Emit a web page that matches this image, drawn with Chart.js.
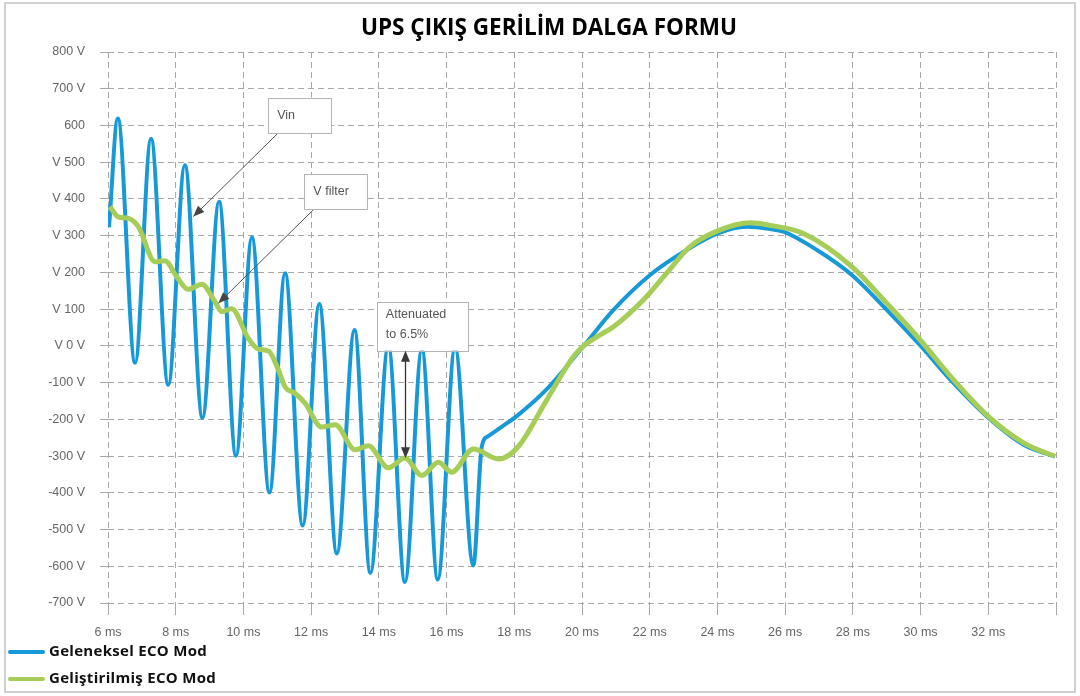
<!DOCTYPE html>
<html>
<head>
<meta charset="utf-8">
<script src="https://cdn.jsdelivr.net/npm/chart.js@4.4.1/dist/chart.umd.min.js"></script>
<style>
  html, body { margin: 0; padding: 0; background: #fff; }
  #wrap { position: relative; width: 1080px; height: 696px; overflow: hidden; }
  #frame { position: absolute; left: 4px; top: 2px; width: 1072px; height: 691px; border: 2px solid #d0d0d0; box-sizing: border-box; pointer-events: none; }
  #title { position: absolute; left: 18px; width: 1062px; top: 11px; text-align: center; font: bold 22.5px "Open Sans", sans-serif; color: #000; margin: 0; }
  #chart { position: absolute; left: 0; top: 0; }
  .leg { position: absolute; left: 8px; font: bold 15px "Open Sans", sans-serif; letter-spacing: 0.3px; color: #111; white-space: nowrap; }
  .leg i { display: inline-block; width: 37px; height: 4px; vertical-align: middle; margin-right: 4px; border-radius: 2px; }
</style>
</head>
<body>
<div id="wrap">
  <canvas id="chart" width="1080" height="696"></canvas>
  <div id="title">UPS ÇIKIŞ GERİLİM DALGA FORMU</div>
  <div id="legend"></div>
  <div id="frame"></div>
</div>
<script>
// series names + colours
const seriesNames = ['Geleneksel ECO Mod', 'Geliştirilmiş ECO Mod'];
const seriesColors = ['#1699d6', '#a5cd58'];

// Geleneksel ECO Mod (Vin) - time in ms, volts
const blueTime = [6.03, 6.29, 6.80, 7.27, 7.78, 8.27, 8.79, 9.28, 9.78, 10.25, 10.77, 11.23, 11.75, 12.24, 12.76,
  13.28, 13.75, 14.28, 14.77, 15.27, 15.74, 16.25, 16.79, 17.04, 17.23, 17.73, 18.09, 18.96, 20.06, 20.93,
  22.01, 23.09, 24.01, 24.87, 25.56, 25.95, 26.94, 27.97, 29.00, 29.99, 30.97, 32.00, 33.04, 33.97];
const blueVolts = [323, 619, -46, 564, -106, 492, -196, 392, -299, 295, -399, 198, -489, 114, -565,
  43, -618, 0, -643, -10, -636, -5, -598, -274, -246, -214, -190, -118, 1, 98,
  193, 261, 306, 324, 318, 311, 261, 193, 98, 1, -101, -196, -269, -301];

// Geliştirilmiş ECO Mod (V filter)
const greenTime = [6.06, 6.30, 6.60, 6.90, 7.39, 7.68, 8.03, 8.37, 8.77, 9.16, 9.36, 9.65, 10.14, 10.44, 10.74,
  11.03, 11.23, 11.52, 11.82, 12.31, 12.71, 13.30, 13.69, 14.28, 14.77, 15.27, 15.76, 16.15, 16.79, 17.55,
  18.12, 18.96, 19.75, 20.06, 20.50, 20.93, 21.81, 22.50, 23.19, 24.01, 24.97, 25.56, 26.54, 27.97, 29.00, 29.99,
  30.97, 32.00, 33.04, 33.97];
const greenVolts = [379, 351, 347, 324, 229, 232, 188, 154, 168, 120, 93, 101, 21, -9, -14,
  -65, -112, -129, -156, -221, -215, -283, -272, -332, -305, -353, -317, -344, -281, -308,
  -274, -147, -29, 1, 28, 52, 125, 198, 270, 313, 335, 328, 306, 216, 116, 16,
  -92, -192, -264, -301];

// axis tick labels (as printed on the original)
const xTickValues = [6, 8, 10, 12, 14, 16, 18, 20, 22, 24, 26, 28, 30, 32, 34];
const xTickLabels = ['6 ms', '8 ms', '10 ms', '12 ms', '14 ms', '16 ms', '18 ms', '20 ms', '22 ms', '24 ms', '26 ms', '28 ms', '30 ms', '32 ms', ''];
const yTickValues = [800, 700, 600, 500, 400, 300, 200, 100, 0, -100, -200, -300, -400, -500, -600, -700];
const yTickLabels = ['800 V', '700 V', '600', 'V 500', 'V 400', 'V 300', 'V 200', 'V 100', 'V 0 V', '-100 V', '-200 V', '-300 V', '-400 V', '-500 V', '-600 V', '-700 V'];

// callouts, in data units (ms, V)
const callouts = [
  { text: ['Vin'], box: [10.73, 676, 12.60, 580], from: [11.03, 580], to: [8.52, 352] },
  { text: ['V filter'], box: [11.80, 467, 13.66, 372], from: [12.06, 370], to: [9.26, 116] },
  { text: ['Attenuated', 'to 6.5%'], box: [13.94, 120, 16.64, -13], span: [14.77, -13, -306] }
];

// legend
const legendEl = document.getElementById('legend');
seriesNames.forEach((name, i) => {
  const d = document.createElement('div');
  d.className = 'leg';
  d.style.top = (640 + i * 27) + 'px';
  d.innerHTML = '<i style="background:' + seriesColors[i] + '"></i>' + name;
  legendEl.appendChild(d);
});

function arrowHead(ctx, x1, y1, x2, y2) {
  const a = Math.atan2(y2 - y1, x2 - x1);
  const len = 11, w = 4.5;
  ctx.beginPath();
  ctx.moveTo(x2, y2);
  ctx.lineTo(x2 - len * Math.cos(a) + w * Math.sin(a), y2 - len * Math.sin(a) - w * Math.cos(a));
  ctx.lineTo(x2 - len * Math.cos(a) - w * Math.sin(a), y2 - len * Math.sin(a) + w * Math.cos(a));
  ctx.closePath();
  ctx.fill();
}

const calloutPlugin = {
  id: 'callouts',
  afterDatasetsDraw(chart) {
    const { ctx } = chart;
    const xs = chart.scales.x, ys = chart.scales.y;
    ctx.save();
    callouts.forEach(c => {
      const bx1 = xs.getPixelForValue(c.box[0]), by1 = ys.getPixelForValue(c.box[1]);
      const bx2 = xs.getPixelForValue(c.box[2]), by2 = ys.getPixelForValue(c.box[3]);
      ctx.strokeStyle = '#555';
      ctx.fillStyle = '#444';
      ctx.lineWidth = 1;
      if (c.from) {
        const fx = xs.getPixelForValue(c.from[0]), fy = ys.getPixelForValue(c.from[1]);
        const tx = xs.getPixelForValue(c.to[0]), ty = ys.getPixelForValue(c.to[1]);
        ctx.beginPath(); ctx.moveTo(fx, fy); ctx.lineTo(tx, ty); ctx.stroke();
        arrowHead(ctx, fx, fy, tx, ty);
      }
      // box
      ctx.fillStyle = '#fff';
      ctx.fillRect(bx1, by1, bx2 - bx1, by2 - by1);
      ctx.strokeStyle = '#b5b5b5';
      ctx.strokeRect(Math.round(bx1) + 0.5, Math.round(by1) + 0.5, Math.round(bx2 - bx1), Math.round(by2 - by1));
      if (c.span) {
        const sx = Math.round(xs.getPixelForValue(c.span[0])) + 0.5;
        const sy1 = ys.getPixelForValue(c.span[1]), sy2 = ys.getPixelForValue(c.span[2]);
        ctx.strokeStyle = '#333';
        ctx.fillStyle = '#3a3a3a';
        ctx.lineWidth = 1.3;
        ctx.beginPath(); ctx.moveTo(sx, sy1 + 6); ctx.lineTo(sx, sy2 - 6); ctx.stroke();
        arrowHead(ctx, sx, sy2, sx, sy1);
        arrowHead(ctx, sx, sy1, sx, sy2);
      }
      ctx.fillStyle = '#555';
      ctx.font = '12.5px "Liberation Sans", Arial, sans-serif';
      ctx.textBaseline = 'middle';
      ctx.textAlign = 'left';
      const lines = c.text;
      const top = lines.length > 1 ? by1 + 13 : (by1 + by2) / 2;
      lines.forEach((t, i) => ctx.fillText(t, bx1 + 9, top + i * 20));
    });
    ctx.restore();
  }
};

const tickFont = { family: '"Liberation Sans", Arial, sans-serif', size: 12.5 };
const gridColor = '#a8a8a8';

const ctx = document.getElementById('chart').getContext('2d');
const chart = new Chart(ctx, {
  type: 'line',
  data: {
    datasets: [{
      label: seriesNames[0],
      data: blueTime.map((t, i) => ({ x: t, y: blueVolts[i] })),
      borderColor: seriesColors[0],
      borderWidth: 4,
      pointRadius: 0,
      cubicInterpolationMode: 'monotone',
      fill: false,
      order: 1
    }, {
      label: seriesNames[1],
      data: greenTime.map((t, i) => ({ x: t, y: greenVolts[i] })),
      borderColor: seriesColors[1],
      borderWidth: 5,
      pointRadius: 0,
      cubicInterpolationMode: 'monotone',
      fill: false,
      order: 0
    }]
  },
  options: {
    responsive: false,
    animation: false,
    layout: { padding: { left: 0, right: 24, top: 52, bottom: 0 } },
    plugins: { legend: { display: false }, title: { display: false }, tooltip: { enabled: false } },
    scales: {
      x: {
        type: 'linear', min: 6, max: 34,
        afterBuildTicks: s => { s.ticks = xTickValues.map(v => ({ value: v })); },
        afterFit: s => { s.height = 93; },
        ticks: {
          autoSkip: false, maxRotation: 0, padding: 10, color: '#666', font: tickFont,
          callback: v => xTickLabels[xTickValues.indexOf(v)]
        },
        grid: { color: gridColor, tickColor: gridColor, tickLength: 12, tickBorderDash: [] },
        border: { display: false, dash: [6, 4] }
      },
      y: {
        min: -700, max: 800,
        afterBuildTicks: s => { s.ticks = yTickValues.map(v => ({ value: v })); },
        afterFit: s => { s.width = 108; },
        ticks: {
          autoSkip: false, padding: 15, color: '#666', font: tickFont,
          callback: v => yTickLabels[yTickValues.indexOf(v)]
        },
        grid: { color: gridColor, tickColor: gridColor, tickLength: 8, tickBorderDash: [] },
        border: { display: false, dash: [6, 4] }
      }
    }
  },
  plugins: [calloutPlugin]
});
</script>
</body>
</html>
